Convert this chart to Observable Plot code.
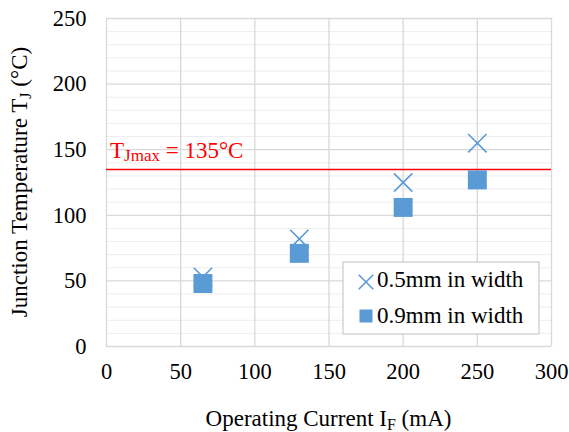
<!DOCTYPE html>
<html>
<head>
<meta charset="utf-8">
<script src="https://cdn.jsdelivr.net/npm/d3@7"></script>
<script src="https://cdn.jsdelivr.net/npm/@observablehq/plot@0.6"></script>
<style>
  html, body { margin: 0; padding: 0; background: #fff; }
  svg text { font-family: "Liberation Serif", "Times New Roman", Tinos, "DejaVu Serif", serif !important; }
</style>
</head>
<body>
<div id="chart"></div>
<script>
// Data
const current = [65, 130, 200, 250];
const temp05 = [53, 82, 125, 155];
const temp09 = [48, 71, 106, 127];
const seriesNames = ["0.5mm in width", "0.9mm in width"];
const tjMax = 135;
const xTicks = [0, 50, 100, 150, 200, 250, 300];
const yTicks = [0, 50, 100, 150, 200, 250];
const yMinor = [10,20,30,40,60,70,80,90,110,120,130,140,160,170,180,190,210,220,230,240];

const blue = "#5B9BD5";
const font = "Liberation Serif, Times New Roman, serif";

const d05 = current.map((x, i) => ({x, y: temp05[i]}));
const d09 = current.map((x, i) => ({x, y: temp09[i]}));

const plot = Plot.plot({
  width: 569,
  height: 432,
  marginLeft: 106,
  marginRight: 18,
  marginTop: 18,
  marginBottom: 86,
  style: {fontFamily: font, fontSize: "22px", color: "#000", background: "#fff"},
  x: {domain: [0, 300]},
  y: {domain: [0, 250]},
  marks: [
    Plot.ruleY(yMinor, {stroke: "#ededed", strokeWidth: 1}),
    Plot.ruleY(yTicks, {stroke: "#d9d9d9", strokeWidth: 1.3}),
    Plot.ruleX(xTicks, {stroke: "#d9d9d9", strokeWidth: 1.3}),
    Plot.axisX({ticks: xTicks, tickSize: 0, tickPadding: 17, label: null, fontSize: 22.5, fill: "#000"}),
    Plot.axisY({ticks: yTicks, tickSize: 0, tickPadding: 20, label: null, fontSize: 22.5, fill: "#000"}),
    Plot.ruleY([tjMax], {stroke: "#ff0000", strokeWidth: 1.5}),
    Plot.dot(d05, {x: "x", y: "y", symbol: "times", r: 8.4, stroke: blue, strokeWidth: 1.6}),
    Plot.dot(d09, {x: "x", y: "y", symbol: "square", r: 10.7, fill: blue, stroke: "none"})
  ]
});

document.getElementById("chart").appendChild(plot);

const svg = d3.select(plot);
const xs = plot.scale("x"), ys = plot.scale("y");

function txt(sel) {
  return sel.append("text")
    .attr("font-family", font)
    .attr("font-size", 23)
    .attr("fill", "#000")
    .attr("text-anchor", "start");
}

// Threshold label
const tl = txt(svg)
  .attr("x", xs.apply(0) + 4)
  .attr("y", ys.apply(tjMax) - 11)
  .attr("fill", "#ff0000");
tl.append("tspan").text("T");
tl.append("tspan").attr("font-size", 17).attr("dy", 3).text("Jmax");
tl.append("tspan").attr("dy", -3).text(" = " + tjMax + "°C");

// X axis title
const xt = txt(svg)
  .attr("x", (xs.apply(0) + xs.apply(300)) / 2)
  .attr("y", 426)
  .attr("text-anchor", "middle");
xt.append("tspan").text("Operating Current I");
xt.append("tspan").attr("font-size", 16).attr("dy", 4).text("F");
xt.append("tspan").attr("dy", -4).text(" (mA)");

// Y axis title
const yt = txt(svg)
  .attr("transform", `translate(27,${(ys.apply(0) + ys.apply(250)) / 2}) rotate(-90)`)
  .attr("text-anchor", "middle");
yt.append("tspan").text("Junction Temperature T");
yt.append("tspan").attr("font-size", 16).attr("dy", 4).text("J");
yt.append("tspan").attr("dy", -4).text(" (°C)");

// Legend
const lg = svg.append("g");
lg.append("rect")
  .attr("x", 343).attr("y", 262).attr("width", 196).attr("height", 72)
  .attr("fill", "#fff").attr("stroke", "#bfbfbf").attr("stroke-width", 1);
lg.append("path")
  .attr("transform", "translate(366,282)")
  .attr("d", d3.symbol(d3.symbolTimes, 140)())
  .attr("fill", "none").attr("stroke", blue).attr("stroke-width", 1.6);
lg.append("rect")
  .attr("x", 359.5).attr("y", 309.5).attr("width", 13).attr("height", 13)
  .attr("fill", blue);
txt(lg).attr("x", 377).attr("y", 287).text(seriesNames[0]);
txt(lg).attr("x", 377).attr("y", 323).text(seriesNames[1]);
</script>
</body>
</html>
